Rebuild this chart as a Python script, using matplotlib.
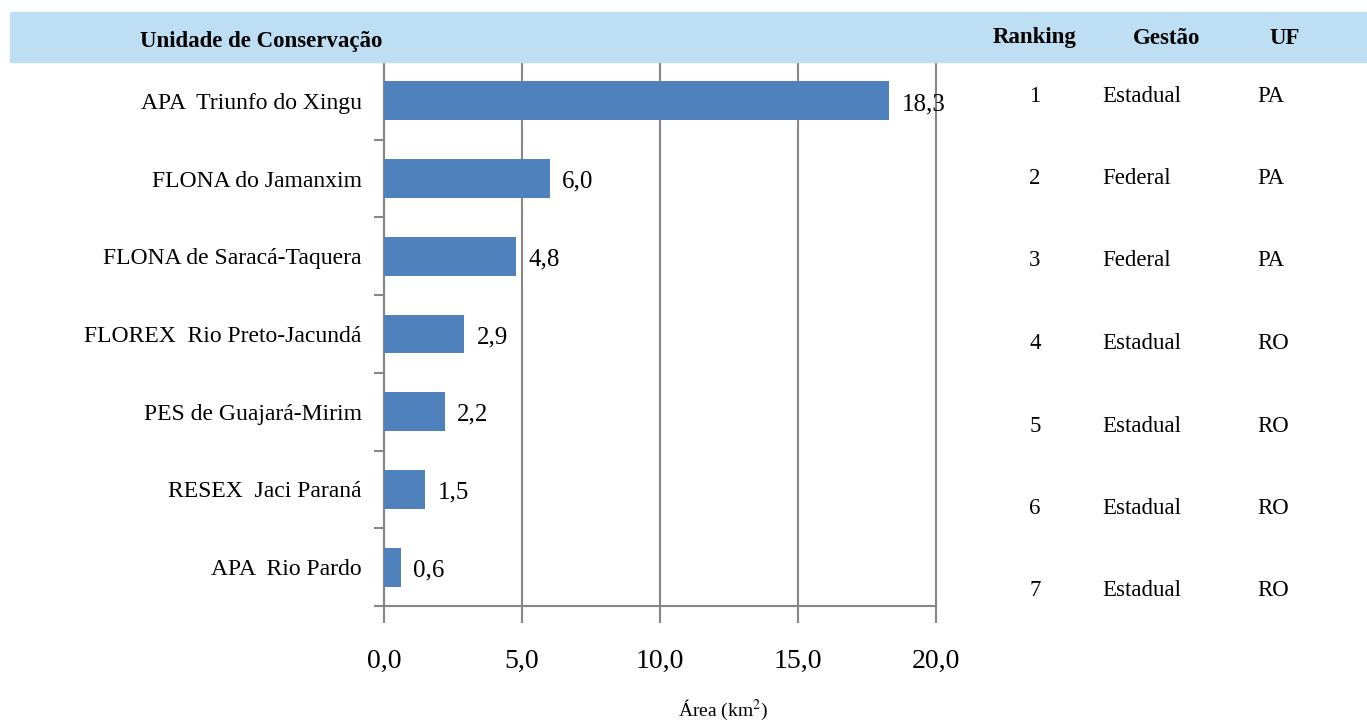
import matplotlib.pyplot as plt
import numpy as np

# Unidades de conservação e área desmatada (km²)
unidades = ['APA  Triunfo do Xingu', 'FLONA do Jamanxim', 'FLONA de Saracá-Taquera',
            'FLOREX  Rio Preto-Jacundá', 'PES de Guajará-Mirim', 'RESEX  Jaci Paraná',
            'APA  Rio Pardo']
areas = [18.3, 6.0, 4.8, 2.9, 2.2, 1.5, 0.6]
ranking = [1, 2, 3, 4, 5, 6, 7]
gestao = ['Estadual', 'Federal', 'Federal', 'Estadual', 'Estadual', 'Estadual', 'Estadual']
uf = ['PA', 'PA', 'PA', 'RO', 'RO', 'RO', 'RO']
xticks = [0, 5, 10, 15, 20]

W, H = 1367, 722
plt.rcParams['font.family'] = ['Liberation Serif', 'DejaVu Serif']
plt.rcParams['mathtext.fontset'] = 'stix'

fig = plt.figure(figsize=(W / 100, H / 100), dpi=100)

# faixa de cabeçalho
fig.patches.append(plt.Rectangle((10 / W, 1 - 62 / H), 1 - 10 / W, 50 / H,
                                 transform=fig.transFigure, color='#BDDEF3', zorder=0))
fig.text(140 / W, 1 - 42 / H, 'Unidade de Conservação', fontsize=16.5, fontweight='bold',
         va='center', ha='left')
fig.text(1035 / W, 1 - 38 / H, 'Ranking', fontsize=16.5, fontweight='bold', va='center', ha='center')
fig.text(1167 / W, 1 - 38 / H, 'Gestão', fontsize=16.5, fontweight='bold', va='center', ha='center')
fig.text(1285 / W, 1 - 38 / H, 'UF', fontsize=16.5, fontweight='bold', va='center', ha='center')

ax = fig.add_axes([384 / W, 1 - 606 / H, (936 - 384) / W, (606 - 62) / H])
y = np.arange(len(unidades))
ax.barh(y, areas, height=0.5, color='#4F81BD', zorder=3)
for yi, v in zip(y, areas):
    ax.text(v + 0.45, yi + 0.04, f'{v:.1f}'.replace('.', ','), va='center', ha='left', fontsize=18)

ax.set_xlim(0, 20)
ax.set_ylim(len(unidades) - 0.5, -0.5)
ax.set_xticks(xticks)
ax.set_xticklabels([f'{t:.1f}'.replace('.', ',') for t in xticks], fontsize=20)
ax.set_yticks(y)
ax.set_yticklabels(unidades, fontsize=17)
ax.set_yticks(np.arange(-0.5, len(unidades), 1), minor=True)
ax.tick_params(axis='y', which='major', length=0, pad=16)
ax.tick_params(axis='y', which='minor', length=7, color='#868686', width=1.5)
ax.tick_params(axis='x', length=12, color='#868686', width=1.5, pad=19)
ax.xaxis.grid(True, color='#868686', linewidth=1.5, zorder=0)
for gl in ax.get_xgridlines():
    gl.set_clip_on(False)
for s in ['top', 'right']:
    ax.spines[s].set_visible(False)
for s in ['left', 'bottom']:
    ax.spines[s].set_color('#868686')
    ax.spines[s].set_linewidth(1.5)

fig.text(723 / W, 1 - 710 / H, 'Área (km$^2$)', fontsize=14, ha='center', va='center')

# tabela à direita
for i in range(len(unidades)):
    yy = 1 - (96 + i * 82.5) / H
    fig.text(1035 / W, yy, str(ranking[i]), fontsize=16.5, ha='center', va='center')
    fig.text(1102 / W, yy, gestao[i], fontsize=16.5, ha='left', va='center')
    fig.text(1257 / W, yy, uf[i], fontsize=16.5, ha='left', va='center')

fig.savefig('out.png', dpi=100)
